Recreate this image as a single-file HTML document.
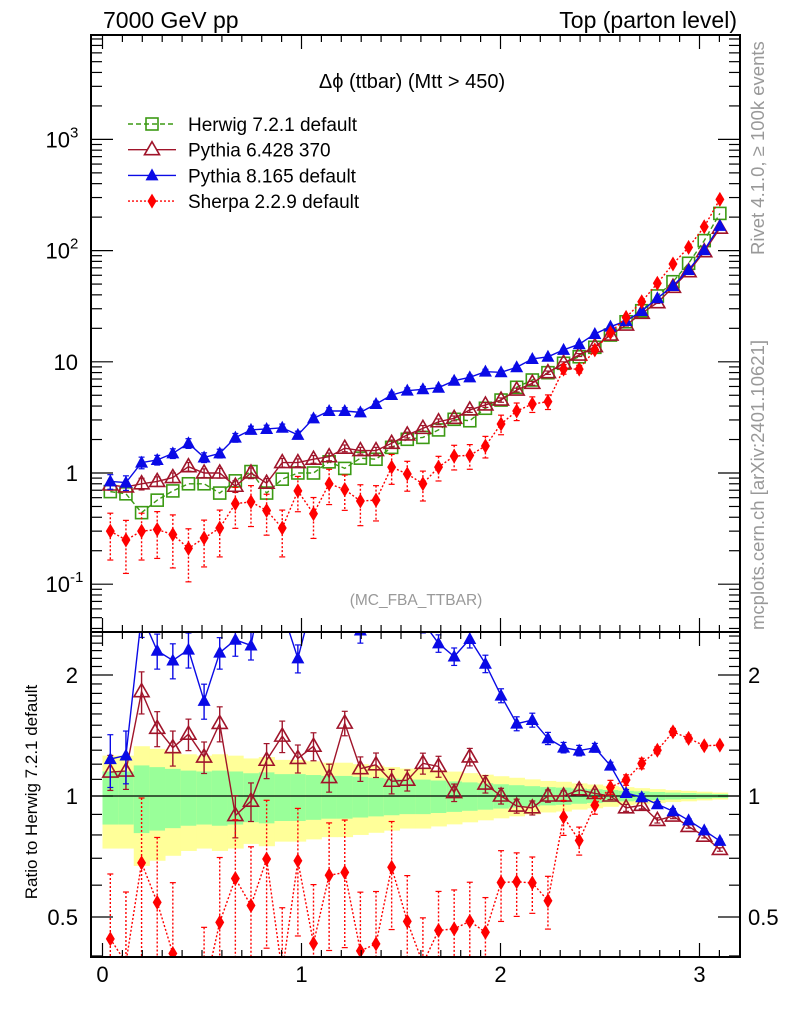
<!DOCTYPE html>
<html><head><meta charset="utf-8"><style>
html,body{margin:0;background:#fff;overflow:hidden;width:786px;height:1024px}
svg{display:block;font-family:"Liberation Sans",sans-serif;overflow:hidden}
</style></head><body>
<svg id="c" width="786" height="1024" xmlns="http://www.w3.org/2000/svg">
<defs>
<clipPath id="cm"><rect x="91" y="35" width="649" height="597"/></clipPath>
<clipPath id="cr"><rect x="91" y="632" width="649" height="325"/></clipPath>
</defs>
<text x="103" y="28" font-size="23">7000 GeV pp</text>
<text x="737" y="28" font-size="23" text-anchor="end">Top (parton level)</text>
<text x="412" y="88" font-size="20" text-anchor="middle">Δϕ (ttbar) (Mtt &gt; 450)</text>
<text x="416" y="605" font-size="15.5" fill="#999" text-anchor="middle">(MC_FBA_TTBAR)</text>
<text transform="translate(764,255) rotate(-90)" font-size="18.5" fill="#999">Rivet 4.1.0, ≥ 100k events</text>
<text transform="translate(764,630) rotate(-90)" font-size="18.5" fill="#999">mcplots.cern.ch [arXiv:2401.10621]</text>
<text transform="translate(37,792) rotate(-90)" font-size="17" text-anchor="middle">Ratio to Herwig 7.2.1 default</text>
<g id="band" clip-path="url(#cr)"></g>
<g id="mainMarks" clip-path="url(#cm)"></g>
<g id="ratioMarks" clip-path="url(#cr)"></g>
<g id="axes"></g>
<g id="legend"></g>
</svg>
<script>
const xTicks=[0,1,2,3];
const herwig=[0.68,0.65,0.44,0.57,0.69,0.80,0.80,0.66,0.85,1.03,0.66,0.88,1.0,1.0,1.26,1.10,1.36,1.33,1.70,2.01,2.09,2.44,3.04,2.95,3.82,4.53,5.90,6.86,7.98,9.70,11.1,13.5,17.4,22.9,28.8,39.1,52.5,76.9,123,216];
const pythia6=[0.78,0.75,0.80,0.84,0.91,1.14,1.0,1.0,0.76,1.0,0.81,1.24,1.24,1.33,1.40,1.67,1.59,1.59,1.85,2.20,2.52,2.89,3.10,3.69,4.09,4.53,5.57,6.41,7.98,9.70,11.5,13.7,17.4,21.4,27.3,34.0,46.8,64.6,97.7,159];
const pythia8=[0.84,0.82,1.24,1.31,1.50,1.85,1.38,1.50,2.08,2.44,2.49,2.55,2.20,3.10,3.61,3.61,3.51,4.17,5.03,5.50,5.66,5.85,6.76,7.25,8.15,8.05,8.93,10.6,11.1,12.8,14.4,17.8,20.7,23.3,28.6,37.3,48.1,66.9,101,167];
const sherpa=[0.30,0.25,0.30,0.31,0.28,0.21,0.26,0.32,0.53,0.55,0.46,0.32,0.69,0.43,0.80,0.71,0.56,0.57,1.13,0.98,0.80,1.13,1.42,1.44,1.75,2.76,3.61,4.17,4.38,8.6,8.6,12.8,18.3,25.1,34.7,50.8,75.8,107,164,289];
const p6Err=[0.10,0.10,0.12,0.10,0.10,0.09,0.09,0.10,0.12,0.11,0.10,0.09,0.08,0.08,0.08,0.07,0.07,0.07,0.07,0.06,0.06,0.06,0.05,0.05,0.05,0.045,0.04,0.04,0.035,0.03,0.03,0.025,0.02,0.02,0.02,0.015,0.015,0.01,0.01,0.01];
const p8Err=[0.15,0.15,0.12,0.10,0.10,0.10,0.10,0.09,0.09,0.08,0.08,0.08,0.08,0.07,0.07,0.07,0.07,0.06,0.06,0.06,0.06,0.05,0.05,0.05,0.05,0.04,0.04,0.04,0.035,0.03,0.03,0.025,0.02,0.02,0.02,0.015,0.015,0.01,0.01,0.01];
const shErr=[0.45,0.5,0.45,0.45,0.5,0.5,0.45,0.45,0.4,0.4,0.4,0.45,0.35,0.4,0.35,0.35,0.4,0.35,0.3,0.3,0.3,0.25,0.25,0.25,0.22,0.2,0.18,0.16,0.15,0.1,0.08,0.05,0.04,0.03,0.03,0.02,0.02,0.02,0.015,0.01];
const bandErr=[0.26,0.26,0.33,0.31,0.29,0.27,0.26,0.27,0.26,0.24,0.25,0.23,0.23,0.22,0.21,0.21,0.2,0.19,0.18,0.17,0.17,0.16,0.15,0.14,0.13,0.12,0.11,0.10,0.09,0.085,0.075,0.068,0.06,0.052,0.046,0.04,0.034,0.03,0.025,0.02];
const mainTickLabels=[["10","-1",0.1],["1","",1],["10","",10],["10","2",100],["10","3",1000]];
const ratioTickLabels=[["0.5",0.5],["1",1],["2",2]];

const NS="http://www.w3.org/2000/svg";
const N=herwig.length, BW=Math.PI/N;
const X=v=>102.5+199*v;
const YM=v=>473-111.2*Math.log10(v);
const YR=r=>796-121*Math.log2(r);
function mk(p,t,a){const e=document.createElementNS(NS,t);for(const k in a)e.setAttribute(k,a[k]);p.appendChild(e);return e;}
const $=id=>document.getElementById(id);
const xc=i=>X((i+0.5)*BW);

const band=$('band');
for(let i=0;i<N;i++){
  const x0=X(i*BW),x1=X((i+1)*BW),e=bandErr[i],g=e*0.58;
  const y=mk(band,'rect',{x:x0,y:YR(1+e),width:x1-x0+0.5,height:YR(1-e)-YR(1+e),fill:'#ffff99'});
  
  
  const gr=mk(band,'rect',{x:x0,y:YR(1+g),width:x1-x0+0.5,height:YR(1-g)-YR(1+g),fill:'#99ff99'});
  
  
}
const one=mk(band,'line',{x1:91,x2:740,y1:YR(1),y2:YR(1),stroke:'#000','stroke-width':1.3});



function marker(p,type,x,y,col){
  let e;
  if(type==='sq') e=mk(p,'rect',{x:x-6,y:y-6,width:12,height:12,fill:'none',stroke:col,'stroke-width':1.6});
  else if(type==='otri') e=mk(p,'polygon',{points:`${x},${y-8} ${x-7.5},${y+5} ${x+7.5},${y+5}`,fill:'#fff','fill-opacity':0,stroke:col,'stroke-width':1.6});
  else if(type==='ftri') e=mk(p,'polygon',{points:`${x},${y-7} ${x-6.5},${y+5} ${x+6.5},${y+5}`,fill:col});
  else e=mk(p,'polygon',{points:`${x},${y-7.5} ${x-4.5},${y} ${x},${y+7.5} ${x+4.5},${y}`,fill:col});
  return e;
}
const series=[
 {name:'herwig',vals:herwig,err:null,col:'#3c9a14',dash:'5,3',m:'sq',label:'Herwig 7.2.1 default'},
 {name:'pythia6',vals:pythia6,err:p6Err,col:'#a0142a',dash:'',m:'otri',label:'Pythia 6.428 370'},
 {name:'pythia8',vals:pythia8,err:p8Err,col:'#0a0ae6',dash:'',m:'ftri',label:'Pythia 8.165 default'},
 {name:'sherpa',vals:sherpa,err:shErr,col:'#ff0000',dash:'2,2',m:'dia',label:'Sherpa 2.2.9 default'}
];
const mm=$('mainMarks'),rm=$('ratioMarks');
series.forEach(s=>{
  const g=mk(mm,'g',{});
  
  
  const pts=s.vals.map((v,i)=>xc(i)+','+YM(v)).join(' ');
  mk(g,'polyline',{points:pts,fill:'none',stroke:s.col,'stroke-width':1.4,'stroke-dasharray':s.dash});
  s.vals.forEach((v,i)=>{
    if(s.err){
      const e=s.err[i];
      mk(g,'line',{x1:xc(i),x2:xc(i),y1:YM(v*(1+e)),y2:YM(Math.max(v*(1-e),1e-3)),stroke:s.col,'stroke-width':1.4,'stroke-dasharray':s.dash});
      mk(g,'line',{x1:xc(i)-3,x2:xc(i)+3,y1:YM(v*(1+e)),y2:YM(v*(1+e)),stroke:s.col,'stroke-width':1.2});
      mk(g,'line',{x1:xc(i)-3,x2:xc(i)+3,y1:YM(v*(1-e)),y2:YM(v*(1-e)),stroke:s.col,'stroke-width':1.2});
    }
    const m=marker(g,s.m,xc(i),YM(v),s.col);
    
    
  });
  if(s.name==='herwig') return;
  const rg=mk(rm,'g',{});
  
  
  const rat=s.vals.map((v,i)=>v/herwig[i]);
  mk(rg,'polyline',{points:rat.map((r,i)=>xc(i)+','+YR(r)).join(' '),fill:'none',stroke:s.col,'stroke-width':1.4,'stroke-dasharray':s.dash});
  rat.forEach((r,i)=>{
    const e=s.err[i];
    mk(rg,'line',{x1:xc(i),x2:xc(i),y1:YR(r*(1+e)),y2:YR(r*(1-e)),stroke:s.col,'stroke-width':1.4,'stroke-dasharray':s.dash});
    mk(rg,'line',{x1:xc(i)-3,x2:xc(i)+3,y1:YR(r*(1+e)),y2:YR(r*(1+e)),stroke:s.col,'stroke-width':1.2});
    mk(rg,'line',{x1:xc(i)-3,x2:xc(i)+3,y1:YR(r*(1-e)),y2:YR(r*(1-e)),stroke:s.col,'stroke-width':1.2});
    const m=marker(rg,s.m,xc(i),YR(r),s.col);
    
    
  });
});

const ax=$('axes');
const fr1=mk(ax,'rect',{x:91,y:35,width:649,height:597,fill:'none',stroke:'#000','stroke-width':2});


const fr2=mk(ax,'rect',{x:91,y:632,width:649,height:325,fill:'none',stroke:'#000','stroke-width':2});


function tk(x1,y1,x2,y2){mk(ax,'line',{x1,y1,x2,y2,stroke:'#000','stroke-width':1.2});}
for(let v=0;v<=3.2;v=+(v+0.1).toFixed(1)){
  if(X(v)>739)break;
  const major=Math.abs(v-Math.round(v))<1e-6, L=major?14:7, x=X(v);
  tk(x,35,x,35+L);tk(x,632,x,632-L);tk(x,632,x,632+L);tk(x,957,x,957-L);
}
xTicks.forEach(v=>{
  const t=mk(ax,'text',{x:X(v),y:982,'font-size':22,'text-anchor':'middle'});
  t.textContent=v;
  
  
});
for(let d=-2;d<=3;d++)for(let m=1;m<=9;m++){
  const v=m*Math.pow(10,d),y=YM(v);
  if(y<35||y>632)continue;
  const L=m===1?22:11;
  tk(91,y,91+L,y);tk(740,y,740-L,y);
}
mainTickLabels.forEach(([b,sup,v])=>{
  const y=YM(v)+8;
  const t=mk(ax,'text',{x:sup?70:78,y:y,'font-size':22,'text-anchor':'end'});
  t.textContent=b;
  
  
  if(sup){const s=mk(ax,'text',{x:70,y:y-10,'font-size':15});s.textContent=sup;
  
  }
});
for(let r=0.4;r<=2.55;r=+(r+0.1).toFixed(1)){
  const y=YR(r),major=[0.5,1,2].some(q=>Math.abs(q-r)<1e-6),L=major?22:11;
  if(y<632||y>957)continue;
  tk(91,y,91+L,y);tk(740,y,740-L,y);
}
ratioTickLabels.forEach(([s,v])=>{
  const y=YR(v)+8;
  const t=mk(ax,'text',{x:78,y:y,'font-size':22,'text-anchor':'end'});t.textContent=s;
  
  
  const t2=mk(ax,'text',{x:748,y:y,'font-size':22});t2.textContent=s;
  
  
});
const lg=$('legend');
series.forEach((s,i)=>{
  const y=124+i*25.7;
  const g=mk(lg,'g',{});
  
  
  mk(g,'line',{x1:128,x2:176,y1:y,y2:y,stroke:s.col,'stroke-width':1.4,'stroke-dasharray':s.dash});
  const m=marker(g,s.m,152,y,s.col);
  if(s.m==='otri'){m.setAttribute('fill','#fff');m.setAttribute('fill-opacity',1);}
  const t=mk(g,'text',{x:188,y:y+7,'font-size':19});t.textContent=s.label;
});
</script>
</body></html>
